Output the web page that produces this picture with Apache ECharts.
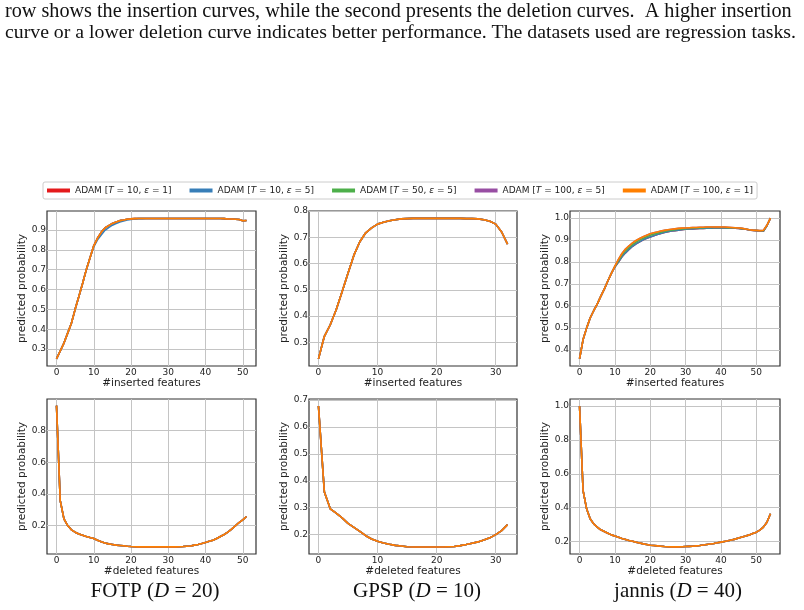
<!DOCTYPE html>
<html>
<head>
<meta charset="utf-8">
<script src="https://cdn.jsdelivr.net/npm/echarts@6/dist/echarts.min.js"></script>
<style>
  html, body { margin: 0; padding: 0; background: #fff; }
  #chart { width: 804px; height: 610px; }
</style>
</head>
<body>
<div id="chart"></div>
<script>
// legend entries, drawn in this order (orange ends up on top)
const seriesNames = [
  'ADAM [T = 10, ε = 1]',
  'ADAM [T = 10, ε = 5]',
  'ADAM [T = 50, ε = 5]',
  'ADAM [T = 100, ε = 5]',
  'ADAM [T = 100, ε = 1]'
];
const seriesColors = ['#e41a1c', '#377eb8', '#4daf4a', '#984ea3', '#ff7f00'];

// tick labels
const xTicks50 = [0, 10, 20, 30, 40, 50];
const xTicks30 = [0, 10, 20, 30];
const yTicksFotpIns = [0.3, 0.4, 0.5, 0.6, 0.7, 0.8, 0.9];
const yTicksGpspIns = [0.3, 0.4, 0.5, 0.6, 0.7, 0.8];
const yTicksJannisIns = [0.4, 0.5, 0.6, 0.7, 0.8, 0.9, 1.0];
const yTicksFotpDel = [0.2, 0.4, 0.6, 0.8];
const yTicksGpspDel = [0.2, 0.3, 0.4, 0.5, 0.6, 0.7];
const yTicksJannisDel = [0.2, 0.4, 0.6, 0.8, 1.0];

// insertion curves (index = #inserted features)
const fotpIns = [0.25, 0.29, 0.33, 0.38, 0.43, 0.50, 0.565, 0.63, 0.70, 0.76,
  0.82, 0.858, 0.888, 0.91, 0.922, 0.933, 0.94, 0.947, 0.95, 0.954,
  0.956, 0.957, 0.958, 0.958, 0.958, 0.958, 0.958, 0.958, 0.958, 0.958,
  0.958, 0.958, 0.958, 0.958, 0.958, 0.958, 0.958, 0.958, 0.958, 0.958,
  0.958, 0.958, 0.958, 0.958, 0.958, 0.957, 0.955, 0.955, 0.954, 0.953,
  0.946, 0.948];
const fotpInsBlue = [0.25, 0.29, 0.33, 0.38, 0.43, 0.50, 0.565, 0.63, 0.70, 0.76,
  0.815, 0.85, 0.875, 0.898, 0.912, 0.924, 0.932, 0.94, 0.945, 0.95,
  0.953, 0.955, 0.957, 0.957, 0.958, 0.958, 0.958, 0.958, 0.958, 0.958,
  0.958, 0.958, 0.958, 0.958, 0.958, 0.958, 0.958, 0.958, 0.958, 0.958,
  0.958, 0.958, 0.958, 0.958, 0.958, 0.957, 0.955, 0.955, 0.954, 0.953,
  0.946, 0.948];
const gpspIns = [0.237, 0.323, 0.367, 0.424, 0.493, 0.563, 0.632, 0.683, 0.717, 0.736,
  0.75, 0.757, 0.763, 0.767, 0.77, 0.771, 0.772, 0.772, 0.772, 0.772,
  0.772, 0.772, 0.772, 0.772, 0.772, 0.771, 0.771, 0.77, 0.767, 0.761,
  0.75, 0.72, 0.674];
const jannisInsHigh = [0.361, 0.448, 0.50, 0.546, 0.579, 0.609, 0.644, 0.677, 0.714, 0.749,
  0.782, 0.812, 0.839, 0.859, 0.874, 0.887, 0.898, 0.907, 0.915, 0.922,
  0.929, 0.933, 0.937, 0.941, 0.944, 0.947, 0.949, 0.951, 0.953, 0.954,
  0.955, 0.956, 0.957, 0.957, 0.958, 0.958, 0.959, 0.959, 0.959, 0.959,
  0.959, 0.959, 0.958, 0.957, 0.956, 0.955, 0.953, 0.95, 0.947, 0.945,
  0.944, 0.943, 0.944, 0.967, 1.0];
const jannisInsMid = [0.361, 0.448, 0.50, 0.546, 0.579, 0.609, 0.644, 0.677, 0.714, 0.749,
  0.78, 0.806, 0.832, 0.851, 0.866, 0.88, 0.891, 0.9, 0.908, 0.915,
  0.922, 0.927, 0.931, 0.936, 0.939, 0.943, 0.945, 0.947, 0.949, 0.951,
  0.952, 0.953, 0.954, 0.955, 0.956, 0.956, 0.957, 0.957, 0.957, 0.957,
  0.957, 0.957, 0.956, 0.956, 0.955, 0.954, 0.952, 0.95, 0.947, 0.945,
  0.944, 0.942, 0.942, 0.966, 1.0];
const jannisInsLow = [0.361, 0.448, 0.50, 0.546, 0.579, 0.609, 0.644, 0.677, 0.714, 0.749,
  0.778, 0.80, 0.824, 0.842, 0.857, 0.872, 0.883, 0.892, 0.901, 0.908,
  0.914, 0.92, 0.925, 0.93, 0.934, 0.938, 0.941, 0.943, 0.945, 0.947,
  0.949, 0.95, 0.951, 0.952, 0.953, 0.953, 0.954, 0.954, 0.955, 0.955,
  0.955, 0.955, 0.955, 0.955, 0.954, 0.953, 0.951, 0.949, 0.946, 0.944,
  0.943, 0.941, 0.94, 0.965, 1.0];

// deletion curves (index = #deleted features)
const fotpDel = [0.958, 0.358, 0.242, 0.2, 0.173, 0.158, 0.147, 0.139, 0.131, 0.124,
  0.118, 0.107, 0.097, 0.09, 0.084, 0.08, 0.076, 0.074, 0.072, 0.069,
  0.067, 0.066, 0.065, 0.065, 0.065, 0.065, 0.065, 0.065, 0.065, 0.065,
  0.065, 0.065, 0.065, 0.066, 0.067, 0.069, 0.071, 0.076, 0.08, 0.086,
  0.093, 0.1, 0.107, 0.118, 0.131, 0.143, 0.158, 0.177, 0.198, 0.219,
  0.236, 0.257];
const gpspDel = [0.678, 0.358, 0.296, 0.28, 0.262, 0.242, 0.227, 0.212, 0.196, 0.184,
  0.175, 0.169, 0.164, 0.16, 0.158, 0.155, 0.154, 0.154, 0.154, 0.154,
  0.154, 0.154, 0.155, 0.156, 0.159, 0.163, 0.168, 0.173, 0.18, 0.188,
  0.2, 0.215, 0.237];
const jannisDel = [1.0, 0.50, 0.393, 0.334, 0.304, 0.285, 0.269, 0.259, 0.249, 0.239,
  0.232, 0.225, 0.218, 0.212, 0.206, 0.201, 0.196, 0.191, 0.186, 0.182,
  0.178, 0.176, 0.174, 0.172, 0.17, 0.169, 0.168, 0.168, 0.168, 0.169,
  0.17, 0.171, 0.172, 0.174, 0.176, 0.179, 0.182, 0.185, 0.188, 0.192,
  0.196, 0.2, 0.204, 0.209, 0.214, 0.22, 0.226, 0.232, 0.239, 0.247,
  0.255, 0.267, 0.285, 0.314, 0.364];

const captions = [['FOTP', '20'], ['GPSP', '10'], ['jannis', '40']];

const TXT = '#222';
const GRIDC = '#c4c4c4';

// one entry per subplot; curves listed in seriesNames order
const panels = [
  { left: 47, top: 211, width: 209, height: 155, xr: [-2.55, 53.55], yr: [0.2145, 0.9955],
    xt: xTicks50, yt: yTicksFotpIns, xname: '#inserted features', gap: 15,
    curves: [fotpIns, fotpInsBlue, fotpIns, fotpIns, fotpIns] },
  { left: 309, top: 211, width: 208, height: 155, xr: [-1.6, 33.6], yr: [0.21, 0.8],
    xt: xTicks30, yt: yTicksGpspIns, xname: '#inserted features', gap: 15,
    curves: [gpspIns, gpspIns, gpspIns, gpspIns, gpspIns] },
  { left: 570, top: 211, width: 210, height: 155, xr: [-2.7, 56.7], yr: [0.328, 1.032],
    xt: xTicks50, yt: yTicksJannisIns, xname: '#inserted features', gap: 16,
    curves: [jannisInsLow, jannisInsLow, jannisInsMid, jannisInsHigh, jannisInsHigh] },
  { left: 47, top: 399, width: 209, height: 155, xr: [-2.55, 53.55], yr: [0.02, 1.0],
    xt: xTicks50, yt: yTicksFotpDel, xname: '#deleted features', gap: 15,
    curves: [fotpDel, fotpDel, fotpDel, fotpDel, fotpDel] },
  { left: 309, top: 399, width: 208, height: 155, xr: [-1.6, 33.6], yr: [0.128, 0.704],
    xt: xTicks30, yt: yTicksGpspDel, xname: '#deleted features', gap: 15,
    curves: [gpspDel, gpspDel, gpspDel, gpspDel, gpspDel] },
  { left: 570, top: 399, width: 210, height: 155, xr: [-2.7, 56.7], yr: [0.126, 1.042],
    xt: xTicks50, yt: yTicksJannisDel, xname: '#deleted features', gap: 16,
    curves: [jannisDel, jannisDel, jannisDel, jannisDel, jannisDel] }
];

const grids = [], xAxes = [], yAxes = [], series = [];
panels.forEach((p, i) => {
  grids.push({
    left: p.left, top: p.top, width: p.width, height: p.height,
    show: true, borderColor: '#333', borderWidth: 1.2, backgroundColor: 'transparent'
  });
  xAxes.push({
    type: 'value', gridIndex: i, min: p.xr[0], max: p.xr[1],
    name: p.xname, nameLocation: 'middle', nameGap: 11,
    nameTextStyle: { fontSize: 10.5, color: TXT, fontFamily: 'DejaVu Sans' },
    axisLine: { show: false },
    axisTick: { show: false, customValues: p.xt },
    axisLabel: { customValues: p.xt, fontSize: 9, color: TXT, margin: 2,
      fontFamily: 'DejaVu Sans', formatter: v => String(v) },
    splitLine: { show: true, lineStyle: { color: GRIDC, width: 1 } }
  });
  yAxes.push({
    type: 'value', gridIndex: i, min: p.yr[0], max: p.yr[1],
    name: 'predicted probability', nameLocation: 'middle', nameGap: p.gap,
    nameTextStyle: { fontSize: 10.5, color: TXT, fontFamily: 'DejaVu Sans' },
    axisLine: { show: false },
    axisTick: { show: false, customValues: p.yt },
    axisLabel: { customValues: p.yt, fontSize: 9, color: TXT, margin: 1,
      fontFamily: 'DejaVu Sans', formatter: v => v.toFixed(1) },
    splitLine: { show: true, lineStyle: { color: GRIDC, width: 1 } }
  });
  p.curves.forEach((arr, k) => {
    series.push({
      name: seriesNames[k], type: 'line', xAxisIndex: i, yAxisIndex: i,
      data: arr.map((v, x) => [x, v]),
      showSymbol: false, symbol: 'none', silent: true, animation: false,
      lineStyle: { color: seriesColors[k], width: 1.6 },
      itemStyle: { color: seriesColors[k] },
      z: 2 + k
    });
  });
});

const captionCenters = [155, 417, 678];
const graphics = [
  { type: 'text', left: 5, top: 2, style: {
      text: 'row shows the insertion curves, while the second presents the deletion curves.  A higher insertion',
      font: '20.2px "Liberation Serif"', fill: '#111' } },
  { type: 'text', left: 5, top: 23, style: {
      text: 'curve or a lower deletion curve indicates better performance. The datasets used are regression tasks.',
      font: '19.8px "Liberation Serif"', fill: '#111' } }
];
captions.forEach((c, i) => {
  graphics.push({
    type: 'text', x: captionCenters[i], y: 591,
    style: {
      text: '{n|' + c[0] + ' (}{i|D}{n| = ' + c[1] + ')}',
      align: 'center', verticalAlign: 'middle',
      rich: {
        n: { fontFamily: 'Liberation Serif', fontSize: 21, fill: '#111' },
        i: { fontFamily: 'Liberation Serif', fontSize: 21, fontStyle: 'italic', fill: '#111' }
      }
    }
  });
});

const chart = echarts.init(document.getElementById('chart'), null, { renderer: 'canvas' });
chart.setOption({
  animation: false,
  backgroundColor: '#fff',
  grid: grids,
  xAxis: xAxes,
  yAxis: yAxes,
  legend: {
    data: seriesNames,
    left: 43, top: 182,
    icon: 'rect', itemWidth: 23, itemHeight: 4, itemGap: 18,
    padding: [4, 4],
    borderColor: '#cccccc', borderWidth: 1, borderRadius: 2,
    textStyle: {
      fontSize: 9, color: TXT, fontFamily: 'DejaVu Sans',
      rich: { i: { fontSize: 9, color: TXT, fontFamily: 'DejaVu Sans', fontStyle: 'italic' } }
    },
    formatter: name => name.replace('[T', '[{i|T}').replace('ε', '{i|ε}')
  },
  graphic: graphics,
  series: series
});
</script>
</body>
</html>
